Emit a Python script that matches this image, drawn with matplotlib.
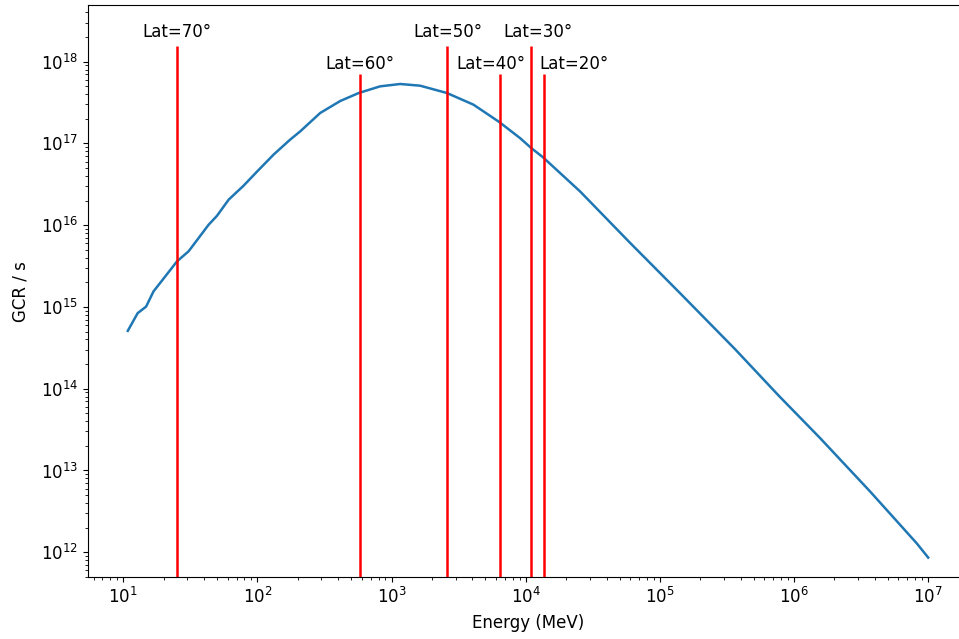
"""GCR rate vs energy with geomagnetic cutoff energies"""

import matplotlib

matplotlib.use("Agg")
import matplotlib.pyplot as plt

# GCR spectrum (energy in MeV, rate in 1/s)
energy = [10.8, 12.8, 14.8, 16.8, 20.5, 25.1, 30.7, 36.4, 43.2, 49.9,
          61.0, 78.8, 99.0, 132, 175, 208, 294, 414, 570, 822,
          1159, 1633, 2580, 4075, 6340, 9080, 10970, 13400, 25400, 60000,
          1.41e5, 3.63e5, 7.7e5, 1.56e6, 3.68e6, 8.2e6, 1.0e7]
gcr = [5.1e14, 8.4e14, 1.01e15, 1.55e15, 2.35e15, 3.6e15, 4.8e15, 6.95e15, 1.01e16, 1.30e16,
       2.05e16, 3.04e16, 4.5e16, 7.3e16, 1.11e17, 1.40e17, 2.36e17, 3.3e17, 4.14e17, 4.99e17,
       5.33e17, 5.08e17, 4.14e17, 2.98e17, 1.83e17, 1.16e17, 8.8e16, 6.8e16, 2.59e16, 6.07e15,
       1.48e15, 3.05e14, 8.2e13, 2.5e13, 5.56e12, 1.29e12, 8.6e11]

# cutoff energy for each latitude
latitudes = [70, 60, 50, 40, 30, 20]
cutoffs = [25.1, 578, 2610, 6400, 10900, 13600]


def main():
    fig = plt.figure(figsize=(9.59, 6.39), dpi=100)
    ax = fig.add_axes([87.7 / 959, 61.7 / 639, 880.6 / 959, 572.3 / 639])

    ax.plot(energy, gcr, color="#1f77b4", linewidth=1.8)

    # alternate line heights so the labels don't collide
    line_top = [1.54e18, 7.1e17, 1.54e18, 7.1e17, 1.54e18, 7.1e17]
    text_y = [1.78e18, 7.2e17, 1.78e18, 7.2e17, 1.78e18, 7.2e17]
    text_shift = [1.0, 1.0, 1.0, 0.862, 1.134, 1.69]
    for lat, e, top, ty, sh in zip(latitudes, cutoffs, line_top, text_y, text_shift):
        ax.vlines(e, 1e11, top, color="red", linewidth=1.8)
        ax.text(e * sh, ty, "Lat={}°".format(lat), ha="center", va="bottom",
                fontsize=12)

    ax.set_xscale("log")
    ax.set_yscale("log")
    ax.set_xlim(5.43, 1.99e7)
    ax.set_ylim(4.94e11, 4.93e18)

    ax.set_xlabel("Energy (MeV)", fontsize=12, labelpad=5)
    ax.set_ylabel("GCR / s", fontsize=12, labelpad=8)
    ax.tick_params(labelsize=12)

    fig.savefig("out.png", dpi=100)


if __name__ == "__main__":
    main()
